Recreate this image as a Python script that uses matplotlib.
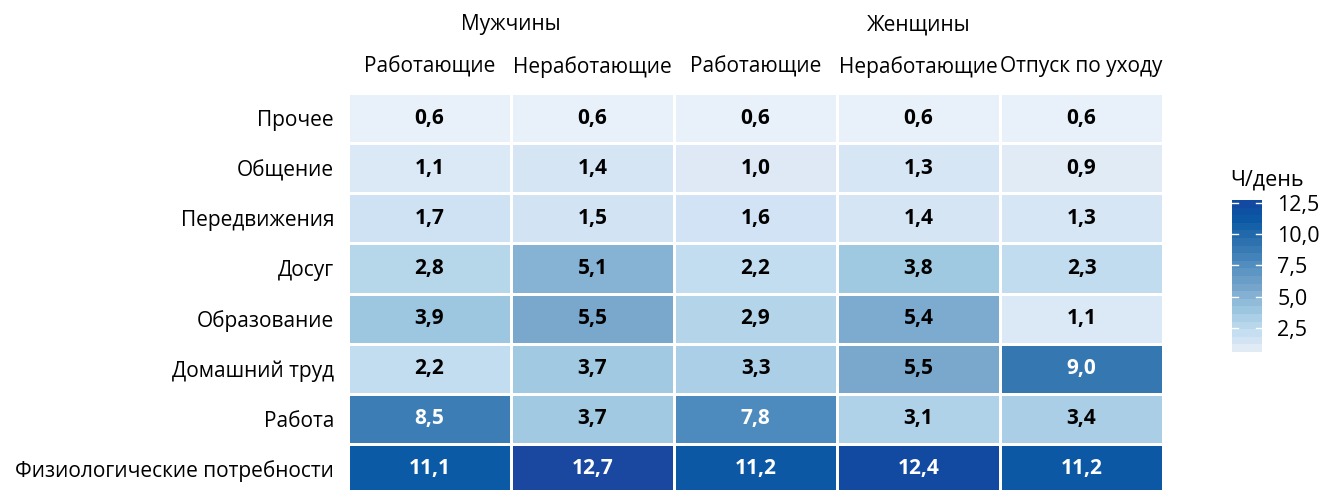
import numpy as np
import matplotlib
matplotlib.use("Agg")
import matplotlib.pyplot as plt
from matplotlib.colors import LinearSegmentedColormap, Normalize

plt.rcParams['font.family'] = ['Open Sans', 'DejaVu Sans']

rows = ["Прочее", "Общение", "Передвижения", "Досуг", "Образование",
        "Домашний труд", "Работа", "Физиологические потребности"]
cols = ["Работающие", "Неработающие", "Работающие", "Неработающие", "Отпуск по уходу"]
groups = ["Мужчины", "Женщины"]

men_working = [0.6, 1.1, 1.7, 2.8, 3.9, 2.2, 8.5, 11.1]
men_nonworking = [0.6, 1.4, 1.5, 5.1, 5.5, 3.7, 3.7, 12.7]
women_working = [0.6, 1.0, 1.6, 2.2, 2.9, 3.3, 7.8, 11.2]
women_nonworking = [0.6, 1.3, 1.4, 3.8, 5.4, 5.5, 3.1, 12.4]
women_leave = [0.6, 0.9, 1.3, 2.3, 1.1, 9.0, 3.4, 11.2]

data = np.array([men_working, men_nonworking, women_working,
                 women_nonworking, women_leave]).T

vmin, vmax = 0.6, 12.7
anchors = [(0.6, "#e8f1fa"), (1.0, "#dde9f5"), (1.4, "#d4e4f4"), (1.7, "#cfe2f4"),
           (2.2, "#c2ddf0"), (2.8, "#b6d6ea"), (3.3, "#abcfe6"), (3.9, "#9cc6e0"),
           (5.1, "#86b3d4"), (5.5, "#7aa8cd"), (7.8, "#4d8abd"), (8.5, "#3d7db5"),
           (9.0, "#3477b1"), (11.1, "#0b5aa5"), (12.4, "#114aa0"), (12.7, "#1a47a0")]
cmap = LinearSegmentedColormap.from_list(
    "c", [((v - vmin) / (vmax - vmin), c) for v, c in anchors])
norm = Normalize(vmin, vmax)

W, H = 1322, 490
fig = plt.figure(figsize=(W / 100, H / 100), dpi=100)
ax_l, ax_r, ax_t, ax_b = 348, 1163, 93, 494
ax = fig.add_axes([ax_l / W, 1 - ax_b / H, (ax_r - ax_l) / W, (ax_b - ax_t) / H])
nr, nc = data.shape
ax.pcolormesh(np.arange(nc + 1), np.arange(nr + 1), data, cmap=cmap, norm=norm,
              edgecolor="white", linewidth=2)
ax.set_xlim(0, nc)
ax.set_ylim(nr, 0)
for s in ax.spines.values():
    s.set_visible(False)
ax.set_xticks([])
ax.set_yticks(np.arange(nr) + 0.5)
ax.set_yticklabels(rows, fontsize=15)
ax.tick_params(axis="y", length=0, pad=10)
for i in range(nr):
    for j in range(nc):
        v = data[i, j]
        ax.text(j + 0.5, i + 0.5, f"{v:.1f}".replace(".", ","), ha="center", va="center",
                fontsize=15, fontweight="bold", color="white" if v > 7 else "black")
for j, c in enumerate(cols):
    ax.text(j + 0.5, -0.52, c, ha="center", va="center", fontsize=15)
ax.text(1.0, -1.36, groups[0], ha="center", va="center", fontsize=15)
ax.text(3.5, -1.36, groups[1], ha="center", va="center", fontsize=15)

# colorbar
cb_l, cb_r, cb_t, cb_b = 1232, 1262, 200, 352
cax = fig.add_axes([cb_l / W, 1 - cb_b / H, (cb_r - cb_l) / W, (cb_b - cb_t) / H])
nb = 20
edges = np.linspace(vmin, vmax, nb + 1)
mids = (edges[:-1] + edges[1:]) / 2
cax.pcolormesh([0, 1], edges, mids.reshape(-1, 1), cmap=cmap, norm=norm)
cax.set_xlim(0, 1)
cax.set_ylim(vmin, vmax)
for s in cax.spines.values():
    s.set_visible(False)
cax.set_xticks([])
ticks = [2.5, 5.0, 7.5, 10.0, 12.5]
cax.yaxis.tick_right()
cax.set_yticks(ticks)
cax.set_yticklabels([f"{t:.1f}".replace(".", ",") for t in ticks], fontsize=15.5)
cax.tick_params(axis="y", length=0, pad=11)
for t in ticks:
    cax.plot([0, 0.2], [t, t], color="white", lw=1)
    cax.plot([0.8, 1], [t, t], color="white", lw=1)
cax.text(-0.07, vmax + 0.75, "Ч/день", fontsize=15.5, ha="left", va="bottom",
         transform=cax.transData)

fig.savefig("out.png", dpi=100)
